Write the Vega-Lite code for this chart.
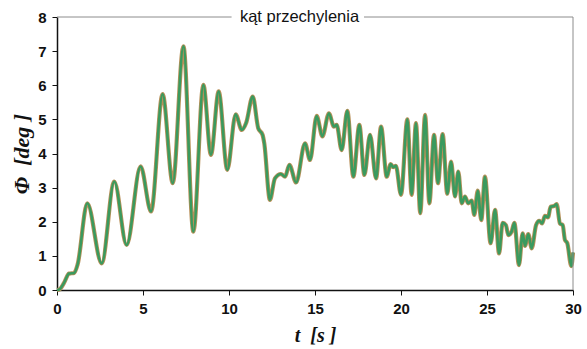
{
  "$schema": "https://vega.github.io/schema/vega-lite/v6.json",
  "width": 516,
  "height": 273,
  "autosize": {"type": "none"},
  "padding": {"left": 57, "top": 17, "right": 14, "bottom": 59},
  "background": "white",
  "config": {
    "view": {"stroke": null},
    "axis": {
      "grid": false,
      "labelFont": "Liberation Sans",
      "labelFontWeight": "bold",
      "labelFontSize": 15,
      "labelColor": "#111",
      "labelFlush": false,
      "domainColor": "#111",
      "domainWidth": 1.5,
      "tickColor": "#111",
      "tickWidth": 1,
      "tickSize": 5,
      "titleFont": "Liberation Serif",
      "titleFontStyle": "italic",
      "titleFontWeight": "bold",
      "titleFontSize": 20,
      "titleColor": "#111"
    }
  },
  "datasets": {
    "roll": [
      {"t": 0, "phi": 0}, {"t": 0.15, "phi": 0.02}, {"t": 0.4, "phi": 0.2}, {"t": 0.7, "phi": 0.48},
      {"t": 1.0, "phi": 0.5}, {"t": 1.2, "phi": 0.75}, {"t": 1.76, "phi": 2.54}, {"t": 2.6, "phi": 0.78},
      {"t": 3.33, "phi": 3.18}, {"t": 4.05, "phi": 1.32}, {"t": 4.86, "phi": 3.62}, {"t": 5.47, "phi": 2.3},
      {"t": 6.14, "phi": 5.74}, {"t": 6.73, "phi": 3.13}, {"t": 7.35, "phi": 7.14}, {"t": 7.93, "phi": 1.71},
      {"t": 8.51, "phi": 6.01}, {"t": 8.95, "phi": 3.96}, {"t": 9.4, "phi": 5.82}, {"t": 9.9, "phi": 3.52},
      {"t": 10.39, "phi": 5.15}, {"t": 10.74, "phi": 4.69}, {"t": 11.0, "phi": 4.9}, {"t": 11.38, "phi": 5.67},
      {"t": 11.7, "phi": 4.74}, {"t": 11.95, "phi": 4.55}, {"t": 12.05, "phi": 4.3}, {"t": 12.38, "phi": 2.64},
      {"t": 12.67, "phi": 3.27}, {"t": 13.02, "phi": 3.4}, {"t": 13.26, "phi": 3.32}, {"t": 13.51, "phi": 3.67},
      {"t": 13.9, "phi": 3.15}, {"t": 14.42, "phi": 4.3}, {"t": 14.71, "phi": 3.81}, {"t": 15.1, "phi": 5.1},
      {"t": 15.43, "phi": 4.5}, {"t": 15.81, "phi": 5.18}, {"t": 16.1, "phi": 4.79}, {"t": 16.26, "phi": 4.84},
      {"t": 16.55, "phi": 4.1}, {"t": 16.88, "phi": 5.25}, {"t": 17.23, "phi": 3.32}, {"t": 17.58, "phi": 4.84},
      {"t": 17.87, "phi": 3.37}, {"t": 18.2, "phi": 4.55}, {"t": 18.55, "phi": 3.27}, {"t": 18.84, "phi": 4.79},
      {"t": 19.17, "phi": 3.32}, {"t": 19.4, "phi": 3.69}, {"t": 19.55, "phi": 3.6}, {"t": 19.7, "phi": 3.64},
      {"t": 20.0, "phi": 2.79}, {"t": 20.37, "phi": 5.0}, {"t": 20.62, "phi": 2.79}, {"t": 20.87, "phi": 4.89},
      {"t": 21.12, "phi": 2.25}, {"t": 21.4, "phi": 5.13}, {"t": 21.65, "phi": 2.54}, {"t": 21.92, "phi": 4.55},
      {"t": 22.15, "phi": 3.13}, {"t": 22.42, "phi": 4.57}, {"t": 22.69, "phi": 2.82}, {"t": 22.91, "phi": 3.76},
      {"t": 23.14, "phi": 2.74}, {"t": 23.33, "phi": 3.47}, {"t": 23.53, "phi": 2.54}, {"t": 23.72, "phi": 2.74},
      {"t": 23.91, "phi": 2.54}, {"t": 24.11, "phi": 2.62}, {"t": 24.26, "phi": 2.2}, {"t": 24.46, "phi": 2.91},
      {"t": 24.67, "phi": 2.05}, {"t": 24.88, "phi": 3.32}, {"t": 25.21, "phi": 1.37}, {"t": 25.47, "phi": 2.35},
      {"t": 25.7, "phi": 1.07}, {"t": 25.91, "phi": 1.97}, {"t": 26.1, "phi": 1.9}, {"t": 26.24, "phi": 1.61},
      {"t": 26.43, "phi": 1.71}, {"t": 26.59, "phi": 1.97}, {"t": 26.86, "phi": 0.73}, {"t": 27.07, "phi": 1.66},
      {"t": 27.21, "phi": 1.29}, {"t": 27.4, "phi": 1.64}, {"t": 27.6, "phi": 1.22}, {"t": 27.85, "phi": 1.9},
      {"t": 28.04, "phi": 2.03}, {"t": 28.2, "phi": 1.95}, {"t": 28.37, "phi": 2.17}, {"t": 28.55, "phi": 2.13},
      {"t": 28.7, "phi": 2.44}, {"t": 28.9, "phi": 2.46}, {"t": 29.05, "phi": 2.52}, {"t": 29.24, "phi": 1.95},
      {"t": 29.4, "phi": 1.9}, {"t": 29.53, "phi": 1.47}, {"t": 29.67, "phi": 1.37}, {"t": 29.9, "phi": 0.7},
      {"t": 30.0, "phi": 1.1}
    ],
    "frameTop": [
      {"x0": 0, "x1": 10.15},
      {"x0": 17.85, "x1": 30}
    ],
    "legend": [
      {"x": 14.1, "y": 8, "label": "kąt przechylenia"}
    ]
  },
  "encoding": {
    "x": {
      "type": "quantitative",
      "scale": {"domain": [0, 30], "nice": false},
      "axis": {"tickCount": 6, "title": "t\u00a0\u00a0[s\u00a0]", "labelPadding": 6, "titlePadding": 9}
    },
    "y": {
      "type": "quantitative",
      "scale": {"domain": [0, 8], "nice": false},
      "axis": {"tickCount": 9, "tickMinStep": 1, "labelOverlap": false, "labelSeparation": 0, "format": "d", "title": "Φ\u00a0\u00a0[deg\u00a0]", "titleFontSize": 22, "labelPadding": 6, "titlePadding": 4}
    }
  },
  "layer": [
    {
      "data": {"name": "roll"},
      "mark": {"type": "line", "interpolate": "monotone", "color": "#b8905a", "strokeWidth": 4.2},
      "encoding": {
        "x": {"field": "t"},
        "y": {"field": "phi"}
      }
    },
    {
      "data": {"name": "roll"},
      "mark": {"type": "line", "interpolate": "monotone", "color": "#3a9a5e", "strokeWidth": 2.6},
      "encoding": {
        "x": {"field": "t"},
        "y": {"field": "phi"}
      }
    },
    {
      "data": {"name": "frameTop"},
      "mark": {"type": "rule", "color": "#8c8c8c", "strokeWidth": 1},
      "encoding": {
        "x": {"field": "x0"},
        "x2": {"field": "x1"},
        "y": {"datum": 8}
      }
    },
    {
      "data": {"values": [{}]},
      "mark": {"type": "rule", "color": "#8c8c8c", "strokeWidth": 1},
      "encoding": {
        "x": {"datum": 30},
        "y": {"datum": 0},
        "y2": {"datum": 8}
      }
    },
    {
      "data": {"name": "legend"},
      "mark": {"type": "text", "font": "Liberation Sans", "fontSize": 16.5, "color": "#111", "align": "center", "baseline": "middle"},
      "encoding": {
        "x": {"field": "x"},
        "y": {"field": "y"},
        "text": {"field": "label"}
      }
    }
  ]
}
